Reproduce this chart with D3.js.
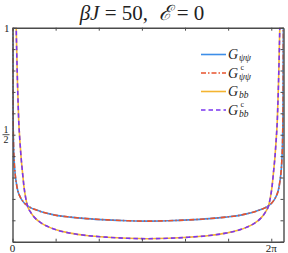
<!DOCTYPE html>
<html>
<head>
<meta charset="utf-8">
<script src="https://cdn.jsdelivr.net/npm/d3@7"></script>
<style>
  html, body { margin: 0; padding: 0; background: #fff; }
  svg { display: block; }
  text { font-family: "Liberation Serif", "DejaVu Serif", serif; fill: #222; }
</style>
</head>
<body>
<svg id="chart"></svg>
<script>
// Sample points (tau, then values).
const tau = [
  0, 0.005, 0.01, 0.02, 0.04, 0.06, 0.09, 0.12, 0.15, 0.18, 0.21, 0.24, 0.28, 0.32, 0.36,
  0.45, 0.55, 0.7, 0.9, 1.1, 1.4, 1.8, 2.3, 2.8, 3.29,
  3.78, 4.28, 4.78, 5.18, 5.48, 5.68, 5.88, 6.03, 6.13,
  6.22, 6.26, 6.30, 6.34, 6.37, 6.40, 6.43, 6.46, 6.49, 6.52, 6.54, 6.56, 6.57, 6.575, 6.58
];
const gPsi = [
  1.3, 0.95, 0.66, 0.5, 0.38, 0.325, 0.278, 0.245, 0.225, 0.212, 0.2, 0.192, 0.182, 0.175, 0.168,
  0.158, 0.15, 0.14, 0.13, 0.122, 0.115, 0.108, 0.102, 0.098, 0.096,
  0.098, 0.102, 0.108, 0.115, 0.122, 0.13, 0.14, 0.15, 0.158,
  0.168, 0.175, 0.182, 0.192, 0.2, 0.212, 0.225, 0.245, 0.278, 0.325, 0.38, 0.5, 0.66, 0.95, 1.3
];
const gB = [
  4, 3.6, 3.2, 2.6, 1.8, 1.35, 1.0, 0.75, 0.57, 0.47, 0.39, 0.33, 0.255, 0.205, 0.17,
  0.135, 0.11, 0.087, 0.067, 0.053, 0.04, 0.029, 0.021, 0.016, 0.014,
  0.016, 0.021, 0.029, 0.04, 0.053, 0.067, 0.087, 0.11, 0.135,
  0.17, 0.205, 0.255, 0.33, 0.39, 0.47, 0.57, 0.75, 1.0, 1.35, 1.8, 2.6, 3.2, 3.6, 4
];
// The connected correlators coincide with the full ones at this scale.
const gPsiC = gPsi;
const gBC = gB;

const xTicks = [0, 1, 2, 3, 4, 5, 6].map(k => k * Math.PI / 3);
const yTicks = [0, 0.1, 0.2, 0.3, 0.4, 0.5, 0.6, 0.7, 0.8, 0.9, 1];

const series = [
  { name: "G", sub: "ψψ", sup: "", values: gPsi, color: "#3d8ee8", dash: null },
  { name: "G", sub: "ψψ", sup: "c", values: gPsiC, color: "#e8532c", dash: "5,2,1.5,2" },
  { name: "G", sub: "bb", sup: "", values: gB, color: "#f4b431", dash: null },
  { name: "G", sub: "bb", sup: "c", values: gBC, color: "#7a35f0", dash: "4.5,3" }
];

const width = 288, height = 253;
const margin = { top: 27.7, right: 4.5, bottom: 11.3, left: 12.5 };

const svg = d3.select("#chart").attr("width", width).attr("height", height);

const x = d3.scaleLinear().domain([0, 6.58]).range([margin.left, width - margin.right]);
const y = d3.scaleLinear().domain([0, 1]).range([height - margin.bottom, margin.top]);

// Clip.
svg.append("clipPath").attr("id", "clip")
  .append("rect")
  .attr("x", x(0)).attr("y", y(1))
  .attr("width", x(6.58) - x(0)).attr("height", y(0) - y(1));

// Lines.
const line = d3.line().curve(d3.curveMonotoneX);
const plot = svg.append("g").attr("clip-path", "url(#clip)");
series.forEach(s => {
  plot.append("path")
    .attr("fill", "none")
    .attr("stroke", s.color)
    .attr("stroke-width", 1.6)
    .attr("stroke-dasharray", s.dash)
    .attr("d", line(tau.map((t, i) => [x(t), y(s.values[i])])));
});

// Frame with inward ticks on all sides.
const frameColor = "#4a4a4a";
const tickLen = 3;
svg.append("g").attr("transform", `translate(0,${y(0)})`)
  .call(d3.axisBottom(x).tickValues(xTicks).tickSizeInner(-tickLen).tickSizeOuter(0).tickFormat(""));
svg.append("g").attr("transform", `translate(0,${y(1)})`)
  .call(d3.axisTop(x).tickValues(xTicks).tickSizeInner(-tickLen).tickSizeOuter(0).tickFormat(""));
svg.append("g").attr("transform", `translate(${x(0)},0)`)
  .call(d3.axisLeft(y).tickValues(yTicks).tickSizeInner(-tickLen).tickSizeOuter(0).tickFormat(""));
svg.append("g").attr("transform", `translate(${x(6.58)},0)`)
  .call(d3.axisRight(y).tickValues(yTicks).tickSizeInner(-tickLen).tickSizeOuter(0).tickFormat(""));
svg.selectAll(".domain").attr("stroke", frameColor).attr("stroke-width", 1.4);
svg.selectAll(".tick line").attr("stroke", frameColor).attr("stroke-width", 1);

// Tick labels.
svg.append("text").attr("x", x(0) - 3).attr("y", y(1) + 4)
  .attr("text-anchor", "end").attr("font-size", 11).text("1");
const half = svg.append("g").attr("transform", `translate(${x(0) - 6.5},${y(0.5)})`);
half.append("text").attr("x", 0).attr("y", -2).attr("text-anchor", "middle").attr("font-size", 10).text("1");
half.append("line").attr("x1", -3.5).attr("x2", 3.5).attr("y1", 0).attr("y2", 0)
  .attr("stroke", "#222").attr("stroke-width", 0.8);
half.append("text").attr("x", 0).attr("y", 8.5).attr("text-anchor", "middle").attr("font-size", 10).text("2");
svg.append("text").attr("x", x(0)).attr("y", height - 1.5)
  .attr("text-anchor", "middle").attr("font-size", 11).text("0");
svg.append("text").attr("x", x(2 * Math.PI)).attr("y", height - 1.5)
  .attr("text-anchor", "middle").attr("font-size", 11).text("2π");

// Title.
const title = svg.append("text").attr("x", 142).attr("y", 20)
  .attr("text-anchor", "middle").attr("font-size", 21);
title.append("tspan").attr("font-style", "italic").text("βJ");
title.append("tspan").text("\u00a0=\u00a050,\u00a0\u00a0");
title.append("tspan").attr("font-style", "italic").text("ℰ");
title.append("tspan").text("\u00a0=\u00a00");

// Legend: one text element per entry, with stacked super/subscript.
const legendY = [54.5, 73, 91.5, 110];
series.forEach((s, i) => {
  const g = svg.append("g").attr("transform", `translate(201,${legendY[i]})`);
  g.append("line").attr("x1", 0).attr("x2", 25).attr("y1", 0).attr("y2", 0)
    .attr("stroke", s.color).attr("stroke-width", 1.6).attr("stroke-dasharray", s.dash);
  const t = g.append("text").attr("x", 27).attr("y", 4.5).attr("font-size", 14);
  t.append("tspan").attr("font-style", "italic").text(s.name);
  if (s.sup) {
    t.append("tspan").attr("x", 39.5).attr("y", -3.5).attr("font-size", 8).text(s.sup);
  }
  t.append("tspan").attr("x", 38).attr("y", 6.5).attr("font-size", 9.5)
    .attr("font-style", "italic").text(s.sub);
});
</script>
</body>
</html>
